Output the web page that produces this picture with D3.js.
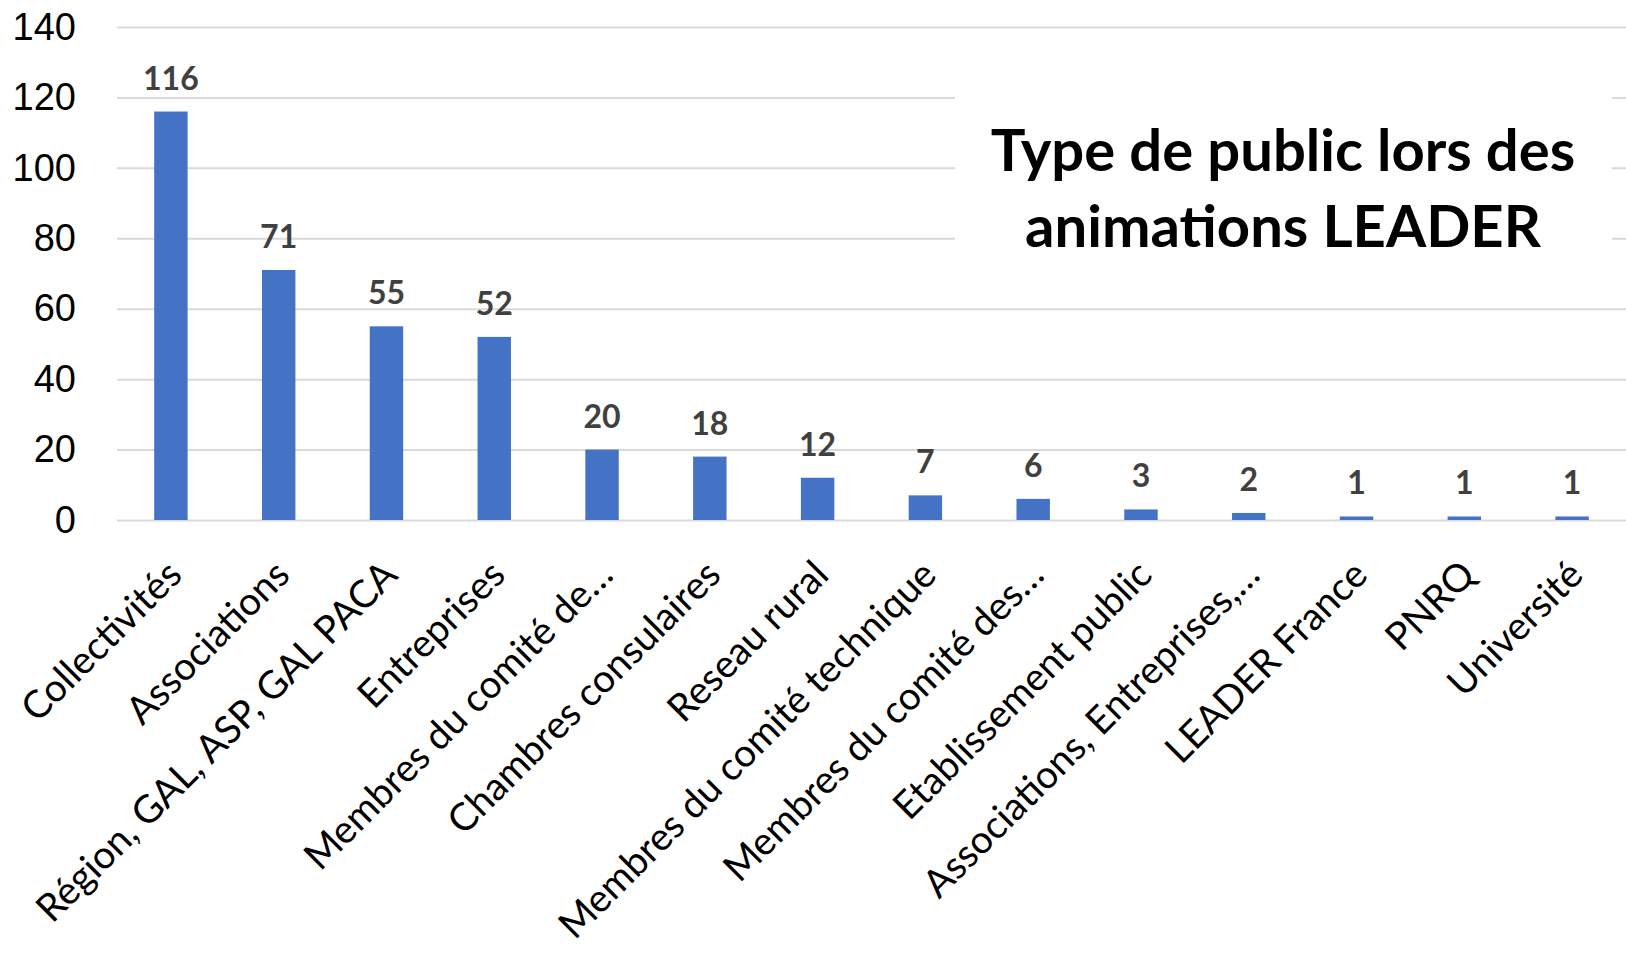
<!DOCTYPE html>
<html>
<head>
<meta charset="utf-8">
<script src="https://cdn.jsdelivr.net/npm/d3@7"></script>
<style>
  body { margin: 0; background: #fff; }
  svg { display: block; font-family: Lato, "Open Sans", sans-serif; }
</style>
</head>
<body>
<div id="chart"></div>
<script>
// categories and counts
const categories = [
  "Collectivités",
  "Associations",
  "Région, GAL, ASP, GAL PACA",
  "Entreprises",
  "Membres du comité de…",
  "Chambres consulaires",
  "Reseau rural",
  "Membres du comité technique",
  "Membres du comité des…",
  "Etablissement public",
  "Associations, Entreprises,…",
  "LEADER France",
  "PNRQ",
  "Université"
];
const counts = [116, 71, 55, 52, 20, 18, 12, 7, 6, 3, 2, 1, 1, 1];
const yTicks = [0, 20, 40, 60, 80, 100, 120, 140];
const titleLines = ["Type de public lors des", "animations LEADER"];

const width = 1626;
const height = 953;
const margin = { top: 27, right: 0, bottom: 433, left: 117 };

const svg = d3.select("#chart")
  .append("svg")
  .attr("width", width)
  .attr("height", height);

const x = d3.scaleBand()
  .domain(categories)
  .range([margin.left, width - margin.right])
  .paddingInner(0.69)
  .paddingOuter(0.345);

const y = d3.scaleLinear()
  .domain([0, 140])
  .range([height - margin.bottom, margin.top]);

// gridlines + y labels
const yAxis = svg.append("g")
  .attr("transform", `translate(${margin.left},0)`)
  .call(d3.axisLeft(y)
    .tickValues(yTicks)
    .tickSize(-(width - margin.left - margin.right))
    .tickPadding(41));

yAxis.select(".domain").remove();
yAxis.selectAll(".tick line")
  .attr("stroke", "#d9d9d9")
  .attr("stroke-width", 2);
yAxis.selectAll(".tick text")
  .attr("fill", "#000")
  .style("font-size", "38px");

// title box hides the gridlines behind it
svg.append("rect")
  .attr("x", 955)
  .attr("y", 80)
  .attr("width", 657)
  .attr("height", 175)
  .attr("fill", "#fff");

svg.append("text")
  .attr("x", 1283)
  .attr("y", 171)
  .attr("text-anchor", "middle")
  .style("font-size", "58px")
  .style("font-weight", "bold")
  .selectAll("tspan")
  .data(titleLines)
  .enter().append("tspan")
    .attr("x", 1283)
    .attr("dy", (d, i) => i === 0 ? 0 : 76)
    .text(d => d);

// bars
svg.append("g")
  .selectAll("rect")
  .data(counts)
  .enter().append("rect")
    .attr("x", (d, i) => x(categories[i]))
    .attr("y", d => y(d))
    .attr("width", x.bandwidth())
    .attr("height", d => y(0) - y(d))
    .attr("fill", "#4472c4");

// value labels
svg.append("g")
  .selectAll("text")
  .data(counts)
  .enter().append("text")
    .attr("x", (d, i) => x(categories[i]) + x.bandwidth() / 2)
    .attr("y", d => y(d) - 22)
    .attr("text-anchor", "middle")
    .attr("fill", "#404040")
    .style("font-size", "32px")
    .style("font-weight", "bold")
    .text(d => d);

// rotated category labels
svg.append("g")
  .selectAll("text")
  .data(categories)
  .enter().append("text")
    .attr("transform", d => `translate(${x(d) + x.bandwidth() / 2 - 6},${y(0) + 38}) rotate(-45)`)
    .attr("text-anchor", "end")
    .attr("dy", "0.7em")
    .attr("fill", "#000")
    .style("font-size", "38.5px")
    .text(d => d);
</script>
</body>
</html>
